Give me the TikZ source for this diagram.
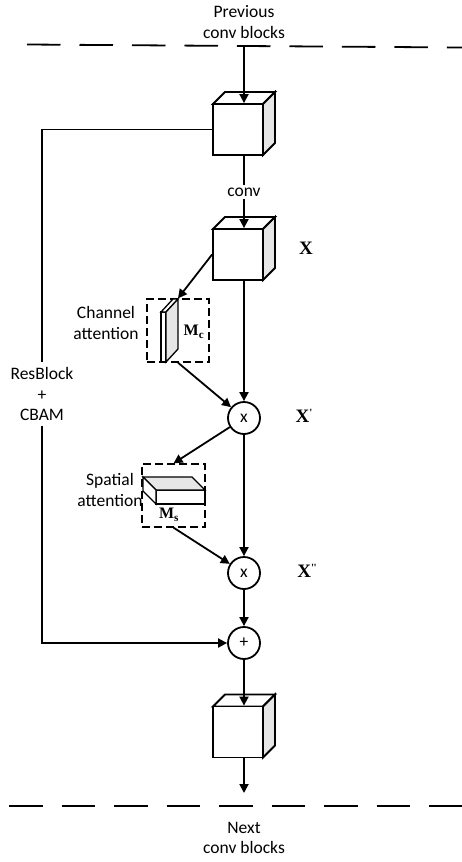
\documentclass[tikz,border=0pt]{standalone}
\usepackage{fontspec}
\setmainfont{Carlito}
\newfontfamily\xserif{Liberation Serif}
\usetikzlibrary{arrows.meta,calc}
\definecolor{sidegray}{HTML}{E6E6E6}
\newcommand\xprime{\raisebox{0.75ex}{\fontsize{11}{11}\selectfont\textquotesingle}}
\begin{document}
\begin{tikzpicture}[x=1pt,y=-1pt,
  line width=1.8pt, line join=miter,
  arr/.style={-{Triangle[length=9pt,width=9pt]}},
  txt/.style={font=\fontsize{17.5}{20.5}\selectfont, align=center, inner sep=0pt},
  xlbl/.style={font=\fontsize{19}{20}\selectfont\xserif\bfseries, inner sep=0pt},
  mlbl/.style={font=\fontsize{16}{18}\selectfont\xserif\bfseries, inner sep=0pt},
  opnode/.style={draw, circle, fill=white, minimum size=32pt, inner sep=0pt, font=\fontsize{17.5}{20}\selectfont},
  sepline/.style={line width=1.8pt, dash pattern=on 33.5pt off 19pt},
  attbox/.style={draw, dash pattern=on 8pt off 4pt, line width=1.3pt, inner sep=0pt},
  slab/.style={draw, line width=1.3pt},
  cube/.pic={
    \draw[fill=white] (-25,-25.5) -- (-13,-37.5) -- (37,-37.5) -- (25,-25.5) -- cycle;
    \draw[fill=sidegray] (25,-25.5) -- (37,-37.5) -- (37,13.5) -- (25,25.5) -- cycle;
    \node[draw, fill=white, minimum width=50pt, minimum height=51pt, inner sep=0pt] (-f) at (0,0) {};
  }
]
\useasboundingbox (0,0) rectangle (462,862);

% separator lines
\draw[sepline] (27,44.5) -- (462,47.5);
\draw[sepline] (9,806) -- (462,806);

% texts top/bottom
\node[txt] (prev) at (244,22) {Previous\\conv blocks};
\node[txt] (next) at (244,838) {Next\\conv blocks};

% cubes
\pic (c1) at (238,129.5) {cube};
\pic (c2) at (238,254.5) {cube};
\pic (c3) at (238,732) {cube};

% operators
\node[opnode] (m1) at (244,418) {x};
\node[opnode] (m2) at (244,573) {x};
\node[opnode] (p1) at (244,643) {+};

% attention boxes
\node[attbox, minimum width=62pt, minimum height=63pt] (cab) at (178,330.5) {};
\node[attbox, minimum width=63pt, minimum height=63pt] (sab) at (173.5,495.5) {};

% channel slab
\draw[slab, fill=white] (161,312) rectangle (166,362);
\draw[slab, fill=white] (161,312) -- (166,312) -- (178,299) -- (173,299) -- cycle;
\draw[slab, fill=sidegray] (166,312) -- (178,299) -- (178,349) -- (166,362) -- cycle;

% spatial slab
\draw[slab, fill=white] (156,490) rectangle (205,504);
\draw[slab, fill=sidegray] (156,490) -- (205,490) -- (192,477) -- (143,477) -- cycle;
\draw[slab, fill=white] (156,490) -- (143,477) -- (143,491) -- (156,504) -- cycle;

\node[mlbl] (mc) at (194,332) {M\textsubscript{c}};
\node[mlbl] (ms) at (169,515) {M\textsubscript{s}};

\node[txt] (catt) at (106,323) {Channel\\attention};
\node[txt] (satt) at (110,490) {Spatial\\attention};

% X labels
\node[xlbl] (x0) at (306,248) {X};
\node[xlbl] (x1) at (304,416) {X\xprime};
\node[xlbl] (x2) at (307,571) {X\xprime\kern-0.5pt\xprime};

% main flow
\coordinate (in) at (244,45);
\coordinate (out) at (244,793);
\draw[arr] (in) -- (in |- c1-f.north);
\draw[arr] (c1-f.south -| in) -- (c2-f.north -| in);
\node[txt, fill=white, inner ysep=3pt, inner xsep=1pt] (conv) at (244,192) {conv};
\draw[arr] (c2-f.south -| in) -- (m1);
\draw[arr] (m1) -- (m2);
\draw[arr] (m2) -- (p1);
\draw[arr] (p1) -- (c3-f.north -| in);
\draw[arr] (c3-f.south -| in) -- (out);

% attention connectors
\draw[arr] (c2-f.west) -- (cab.north);
\draw[arr] (cab.south) -- (m1);
\draw[arr] (m1) -- (sab.north);
\draw[arr] (sab.south) -- (m2);

% residual
\coordinate (rtop) at (42,129.5);
\coordinate (rbot) at (42,643);
\draw[arr] (c1-f.west) -- (rtop) -- (rbot) -- (p1.west);
\node[txt, fill=white, inner ysep=5pt, inner xsep=2pt] (res) at (42,394) {ResBlock\\+\\CBAM};
\end{tikzpicture}
\end{document}
